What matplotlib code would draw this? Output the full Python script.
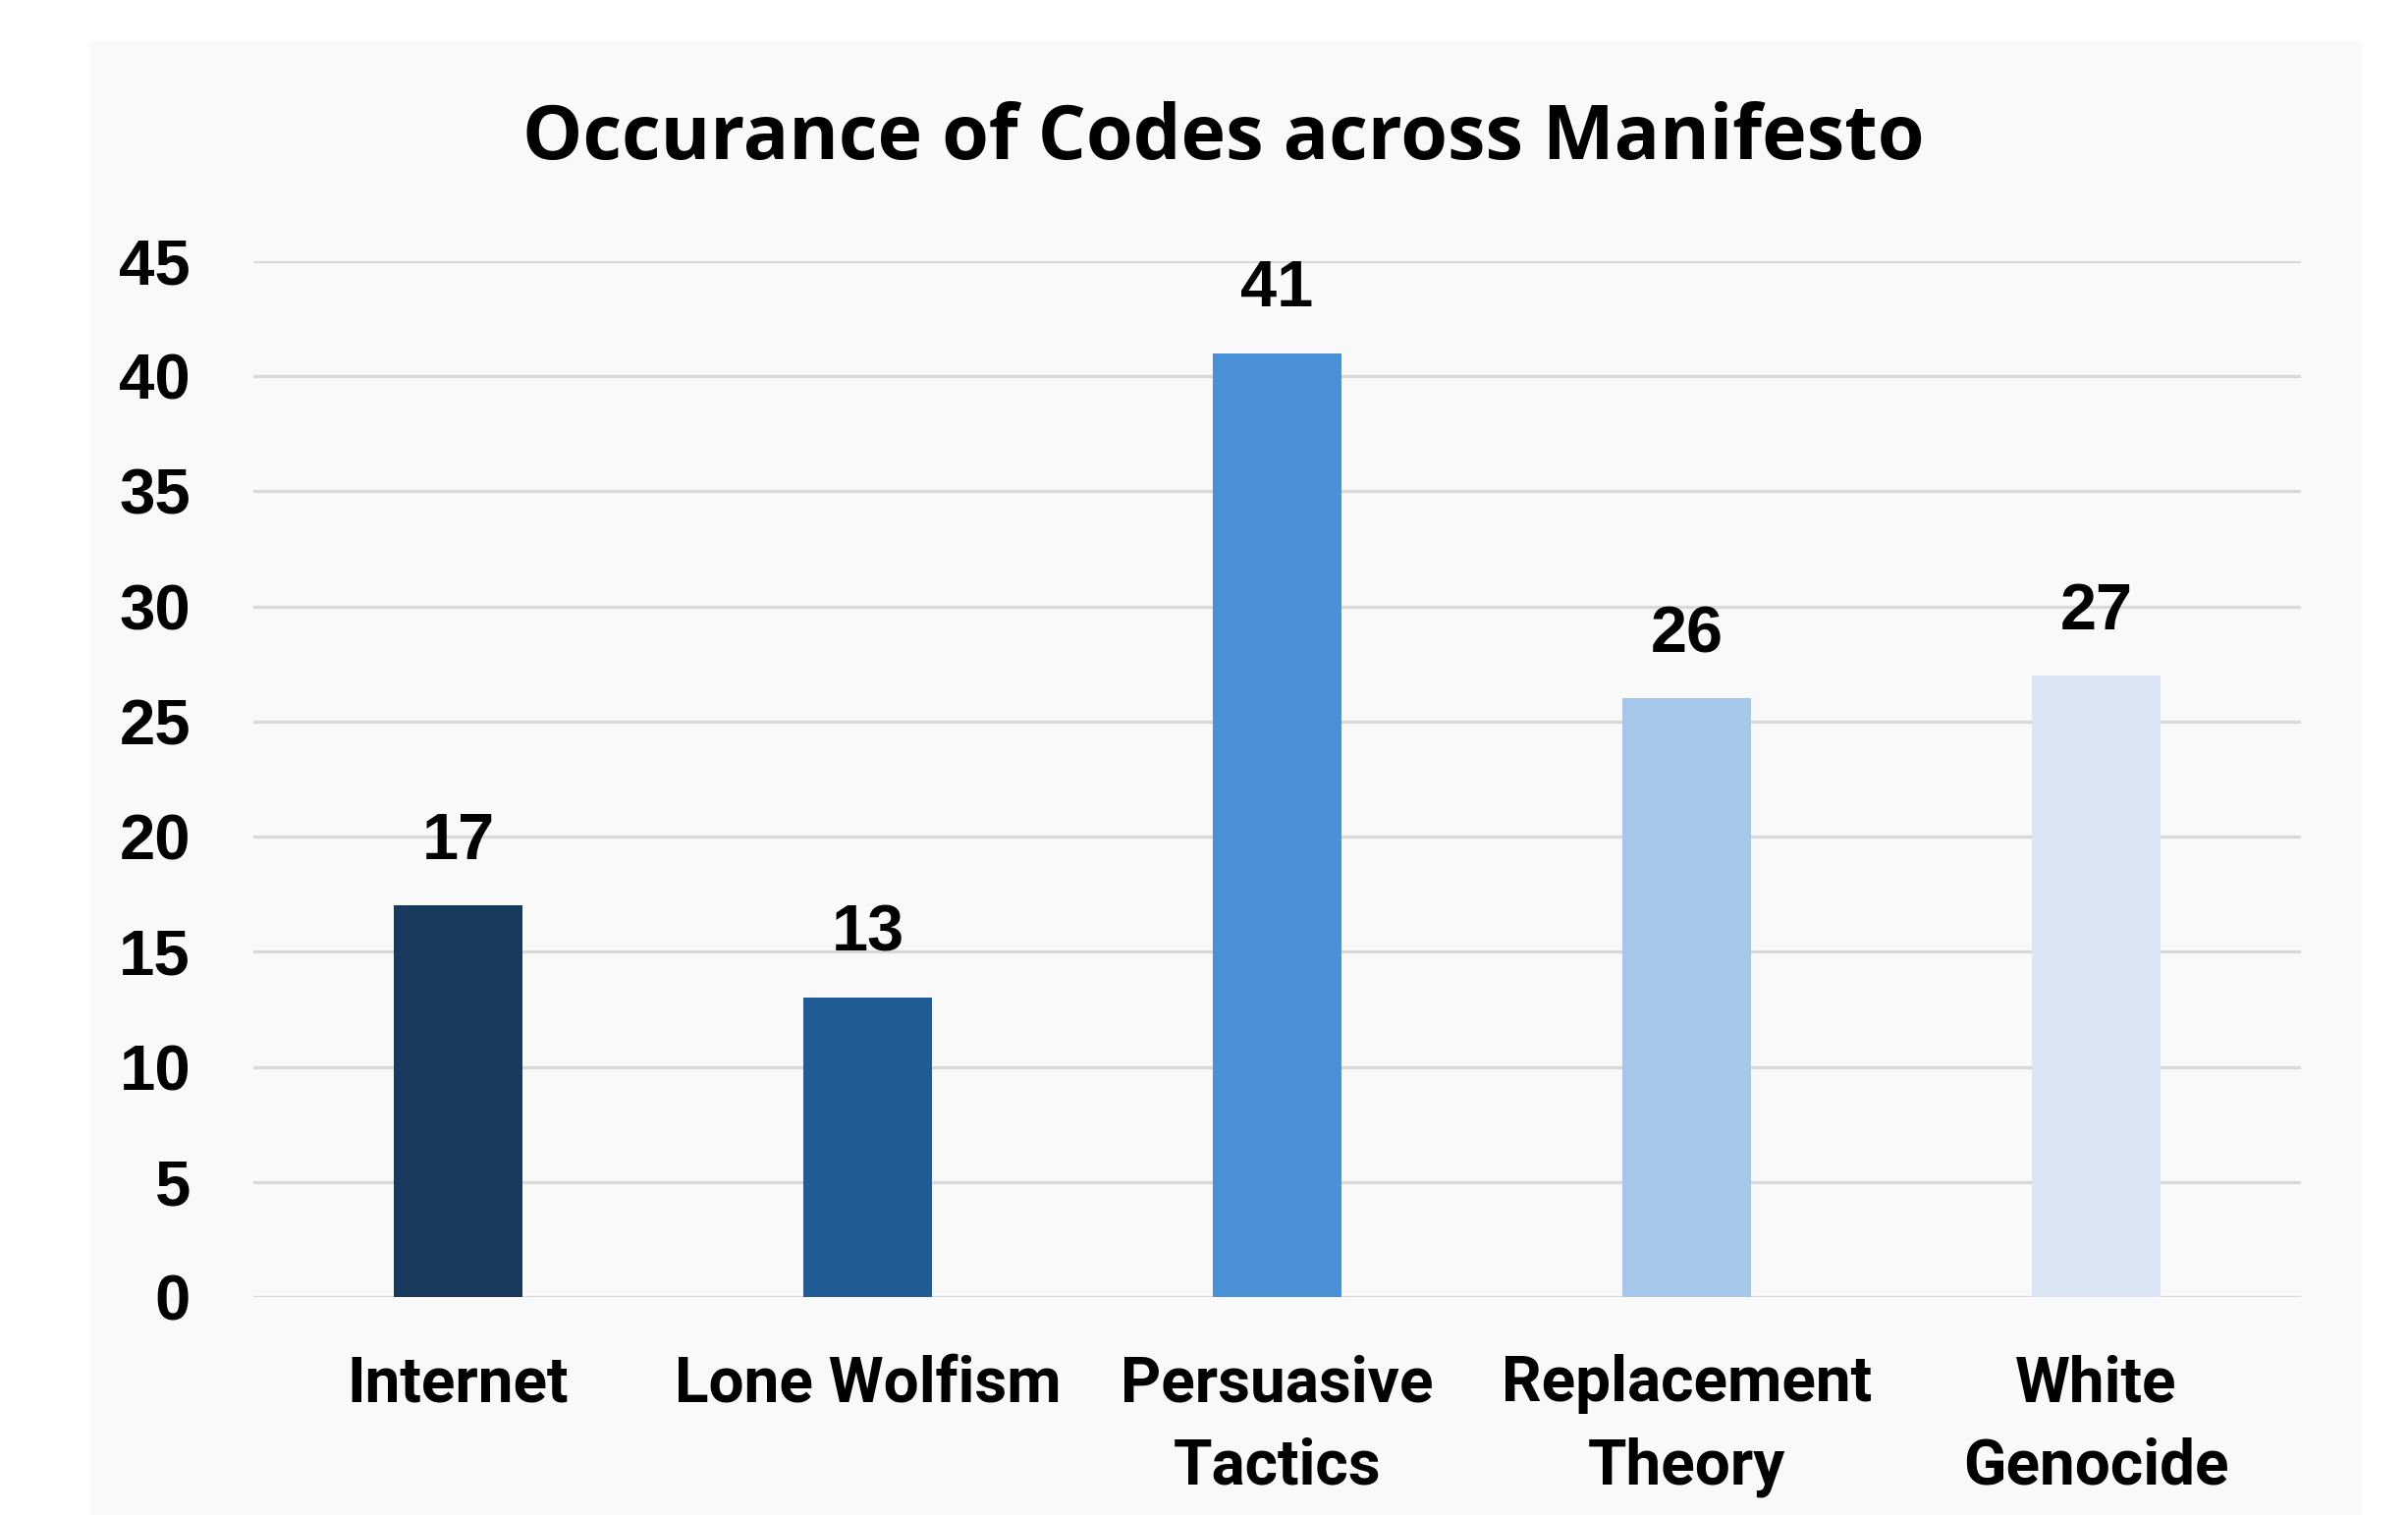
import matplotlib
matplotlib.use("Agg")
import matplotlib.pyplot as plt
from matplotlib.patches import Rectangle

categories = ["Internet", "Lone Wolfism", "Persuasive\nTactics", "Replacement\nTheory", "White\nGenocide"]
values = [17, 13, 41, 26, 27]
colors = ["#173a5e", "#1f5c96", "#4a90d6", "#a4c7ea", "#dae6f4"]
yticks = [0, 5, 10, 15, 20, 25, 30, 35, 40, 45]
title = "Occurance of Codes across Manifesto"

LBL = ["Liberation Sans", "DejaVu Sans"]
TTL = ["Open Sans", "DejaVu Sans"]
XL = ["Roboto", "DejaVu Sans"]

fig = plt.figure(figsize=(24.52, 15.43), dpi=100, facecolor="white")
fig.patches.append(Rectangle((0.0375, 0.0), 0.981 - 0.0375, 0.973,
                             transform=fig.transFigure, facecolor="#f9f9f9",
                             edgecolor="none", zorder=-5))

ax = fig.add_axes([0.1052, 0.1439, 0.8503, 0.6837])
ax.set_zorder(5)
ax.set_facecolor("none")
x = list(range(len(categories)))
ax.bar(x, values, width=0.314, color=colors, zorder=3)
ax.set_xlim(-0.5, len(categories) - 0.5)
ax.set_ylim(0, 45)
ax.set_yticks(yticks)
ax.set_yticklabels([str(t) for t in yticks], family=LBL, fontweight="bold", fontsize=47)
ax.set_xticks(x)
ax.set_xticklabels(categories, family=XL, fontweight="bold", fontsize=46,
                   linespacing=1.48)
ax.tick_params(axis="both", length=0)
ax.tick_params(axis="y", pad=46)
ax.tick_params(axis="x", pad=42)
for s in ax.spines.values():
    s.set_visible(False)
ax.yaxis.grid(True, color="#d9d9d9", linewidth=2.3, zorder=1)
ax.set_axisbelow(True)

for xi, v in zip(x, values):
    ax.annotate(str(v), (xi, v), xytext=(0, 24), textcoords="offset points",
                ha="center", va="bottom", family=LBL, fontweight="bold",
                fontsize=48, annotation_clip=False)

fig.text(0.508, 0.908, title, ha="center", va="center", family=TTL,
         fontweight="bold", fontsize=55.5, zorder=6)

fig.savefig("out.png", dpi=100, facecolor="white")
